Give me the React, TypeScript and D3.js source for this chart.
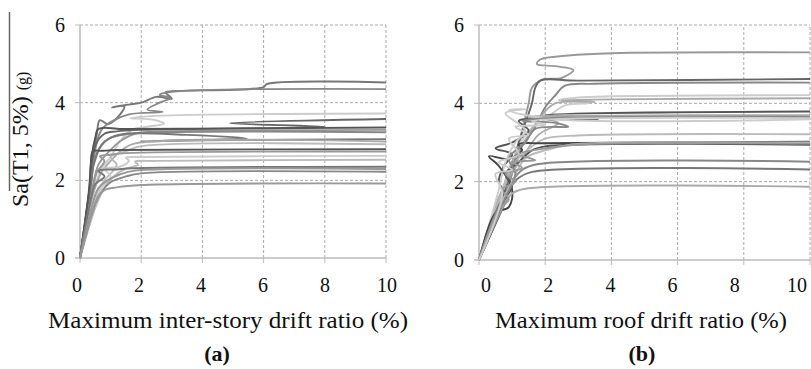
import { useEffect, useRef } from 'react';
import * as d3 from 'd3';

const X_TICKS = [0, 2, 4, 6, 8, 10];
const Y_TICKS = [0, 2, 4, 6];

// IDA curves, each point is [drift (%), Sa (g)]
const IDR_CURVES: [number, number][][] = [
  [[0, 0], [0.3, 1.6], [0.45, 2.6], [0.55, 3.2], [0.65, 3.55], [0.9, 3.45], [1.2, 3.6], [1.45, 3.9], [1.05, 3.88], [1.6, 3.95], [2.0, 4.0], [2.5, 4.15], [3.0, 4.1], [2.8, 4.27], [3.2, 4.3], [6.0, 4.4], [6.1, 4.48], [10, 4.52]],
  [[0, 0], [0.35, 1.8], [0.5, 2.8], [0.7, 3.3], [1.0, 3.5], [1.6, 3.7], [2.7, 3.76], [2.2, 3.82], [2.6, 4.0], [2.95, 4.12], [2.6, 4.2], [3.0, 4.28], [10, 4.35]],
  [[0, 0], [0.4, 1.6], [0.7, 2.3], [1.0, 2.6], [1.3, 3.0], [1.7, 3.3], [2.2, 3.38], [2.75, 3.46], [2.4, 3.56], [1.65, 3.6], [2.5, 3.66], [10, 3.72]],
  [[0, 0], [0.35, 2.0], [0.5, 2.9], [0.8, 3.2], [1.2, 3.26], [2.0, 3.3], [8.0, 3.38], [4.9, 3.47], [10, 3.58]],
  [[0, 0], [0.3, 1.7], [0.38, 2.6], [0.5, 3.1], [0.6, 3.32], [1.5, 3.32], [10, 3.36]],
  [[0, 0], [0.4, 1.8], [0.6, 2.4], [0.9, 2.7], [1.3, 3.0], [1.8, 3.2], [2.5, 3.25], [10, 3.3]],
  [[0, 0], [0.35, 1.9], [0.5, 2.6], [0.8, 3.0], [1.1, 3.12], [1.6, 3.2], [10, 3.24]],
  [[0, 0], [0.3, 1.6], [0.45, 2.4], [0.7, 2.9], [1.0, 3.1], [1.5, 3.2], [3.5, 3.17], [5.45, 3.08], [3.0, 3.03], [2.0, 3.0], [4.0, 3.03], [10, 3.06]],
  [[0, 0], [0.45, 1.7], [0.7, 2.2], [1.0, 2.5], [1.4, 2.8], [1.8, 2.95], [10, 3.0]],
  [[0, 0], [0.5, 1.6], [0.8, 2.0], [1.2, 2.4], [1.0, 2.6], [1.5, 2.75], [2.0, 2.88], [10, 2.93]],
  [[0, 0], [0.3, 1.8], [0.35, 2.4], [0.42, 2.75], [0.7, 2.76], [1.2, 2.78], [10, 2.8]],
  [[0, 0], [0.4, 1.7], [0.55, 2.2], [0.8, 2.5], [0.65, 2.62], [1.0, 2.66], [1.5, 2.7], [10, 2.74]],
  [[0, 0], [0.5, 1.5], [0.7, 1.8], [1.0, 2.1], [0.8, 2.3], [1.3, 2.35], [1.6, 2.5], [1.5, 2.58], [2.0, 2.6], [10, 2.63]],
  [[0, 0], [0.55, 1.4], [0.8, 1.8], [1.1, 2.1], [1.5, 2.3], [1.9, 2.4], [1.8, 2.48], [2.5, 2.5], [10, 2.53]],
  [[0, 0], [0.35, 1.5], [0.5, 1.9], [0.8, 2.1], [0.6, 2.25], [1.2, 2.28], [1.7, 2.31], [10, 2.35]],
  [[0, 0], [0.45, 1.5], [0.6, 1.8], [0.9, 2.0], [1.3, 2.15], [1.8, 2.25], [10, 2.29]],
  [[0, 0], [0.5, 1.4], [0.7, 1.7], [1.0, 1.95], [1.5, 2.1], [2.0, 2.18], [10, 2.22]],
  [[0, 0], [0.45, 1.3], [0.6, 1.6], [0.8, 1.75], [1.2, 1.82], [2.0, 1.88], [10, 1.92]],
];
const IDR_SHADES = ['#777', '#888', '#ccc', '#666', '#555', '#999', '#888', '#777', '#aaa', '#bbb', '#555', '#999', '#ccc', '#bbb', '#777', '#999', '#888', '#999'];

const ROOF_CURVES: [number, number][][] = [
  [[0, 0], [0.7, 1.4], [0.9, 2.0], [1.1, 2.6], [1.3, 3.3], [1.5, 4.0], [1.6, 4.4], [1.9, 4.6], [2.5, 4.65], [2.85, 4.85], [2.3, 4.95], [1.75, 5.0], [1.85, 5.12], [2.7, 5.22], [4.0, 5.28], [10, 5.3]],
  [[0, 0], [0.6, 1.3], [0.8, 1.8], [1.0, 2.4], [1.2, 3.0], [1.4, 3.5], [1.6, 4.0], [1.7, 4.4], [1.85, 4.58], [3.0, 4.58], [10, 4.62]],
  [[0, 0], [0.7, 1.4], [1.0, 2.2], [1.3, 2.9], [1.7, 3.4], [2.0, 3.9], [2.3, 4.2], [2.6, 4.45], [3.5, 4.5], [10, 4.53]],
  [[0, 0], [0.6, 1.5], [0.9, 2.3], [1.2, 2.9], [1.5, 3.3], [2.0, 3.6], [2.6, 3.95], [3.3, 4.0], [2.4, 4.08], [3.0, 4.15], [4.0, 4.18], [10, 4.21]],
  [[0, 0], [0.65, 1.6], [1.0, 2.5], [1.5, 3.2], [1.9, 3.7], [2.3, 4.0], [3.5, 4.04], [2.5, 4.08], [4.0, 4.1], [10, 4.13]],
  [[0, 0], [0.7, 1.3], [0.85, 1.6], [0.6, 2.0], [0.75, 2.4], [1.0, 2.7], [0.5, 2.85], [1.0, 3.0], [1.5, 3.3], [1.2, 3.55], [2.0, 3.6], [3.6, 3.58], [2.0, 3.7], [10, 3.79]],
  [[0, 0], [0.6, 1.6], [0.9, 2.1], [1.3, 2.6], [1.8, 3.2], [2.4, 3.5], [1.5, 3.65], [3.0, 3.68], [10, 3.7]],
  [[0, 0], [0.6, 1.8], [0.8, 2.5], [1.1, 3.0], [1.4, 3.3], [0.8, 3.75], [1.4, 3.85], [0.9, 3.82], [2.2, 3.6], [10, 3.59]],
  [[0, 0], [0.6, 1.5], [0.9, 2.2], [1.2, 2.6], [1.6, 2.9], [2.0, 3.1], [3.0, 3.18], [10, 3.21]],
  [[0, 0], [0.5, 1.2], [0.9, 1.35], [1.0, 1.8], [0.6, 2.4], [0.3, 2.65], [0.9, 2.58], [1.3, 2.8], [1.2, 2.95], [2.0, 2.98], [10, 3.02]],
  [[0, 0], [0.75, 1.5], [1.0, 1.9], [0.8, 2.2], [1.2, 2.5], [1.6, 2.8], [2.0, 2.9], [10, 2.94]],
  [[0, 0], [0.7, 1.5], [1.0, 2.0], [1.3, 2.3], [1.8, 2.45], [10, 2.51]],
  [[0, 0], [0.6, 1.4], [0.9, 1.8], [1.2, 2.1], [1.6, 2.25], [10, 2.31]],
  [[0, 0], [0.75, 1.4], [1.0, 1.7], [1.4, 1.82], [10, 1.87]],
  [[0, 0], [0.7, 1.5], [1.0, 2.0], [1.4, 2.6], [2.0, 2.8], [2.8, 2.95], [3.7, 2.99], [10, 3.0]],
  [[0, 0], [0.8, 1.6], [1.1, 2.2], [0.9, 2.6], [1.4, 3.0], [1.7, 3.35], [2.7, 3.4], [2.3, 3.5], [1.3, 3.55], [2.0, 3.62], [10, 3.65]],
  [[0, 0], [0.6, 1.3], [0.9, 1.55], [0.7, 1.8], [1.1, 2.0], [0.8, 2.2], [1.3, 2.35], [1.0, 2.5], [1.7, 2.55], [1.2, 2.7], [2.0, 2.85], [3.0, 2.95], [10, 2.97]],
  [[0, 0], [0.7, 1.7], [0.5, 2.2], [1.0, 2.3], [0.6, 2.5], [1.2, 2.7], [0.9, 3.1], [1.5, 3.2], [1.1, 3.4], [2.0, 3.45], [1.6, 3.55], [10, 3.62]],
];
const ROOF_SHADES = ['#999', '#666', '#888', '#ccc', '#aaa', '#555', '#aaa', '#ccc', '#bbb', '#444', '#555', '#888', '#777', '#aaa', '#bbb', '#888', '#999', '#ccc'];

const FONT = "'Liberation Serif', 'DejaVu Serif', 'Times New Roman', Times, serif";

export default function App() {
  const svgRef = useRef<SVGSVGElement>(null);

  useEffect(() => {
    if (!svgRef.current) return;
    const svg = d3.select(svgRef.current);
    svg.selectAll('*').remove();

    const panels = [
      { curves: IDR_CURVES, shades: IDR_SHADES, left: 80, right: 386, bottom: 258, top: 25,
        labelL: 77, labelR: 387, title: 'Maximum inter-story drift ratio (%)', titleW: 360,
        tag: '(a)', titleX: 228, tagX: 217 },
      { curves: ROOF_CURVES, shades: ROOF_SHADES, left: 479, right: 810, bottom: 260, top: 25,
        labelL: 486, labelR: 797, title: 'Maximum roof drift ratio (%)', titleW: 292,
        tag: '(b)', titleX: 641, tagX: 642 },
    ];

    panels.forEach(p => {
      const x = d3.scaleLinear().domain([0, 10]).range([p.left, p.right]);
      const xLab = d3.scaleLinear().domain([0, 10]).range([p.labelL, p.labelR]);
      const y = d3.scaleLinear().domain([0, 6]).range([p.bottom, p.top]);
      const g = svg.append('g');

      // dashed grid
      g.selectAll('line.gx').data(X_TICKS.slice(1)).join('line')
        .attr('x1', d => x(d)).attr('x2', d => x(d))
        .attr('y1', y(0)).attr('y2', y(6))
        .attr('stroke', '#aaa').attr('stroke-dasharray', '3,2').attr('stroke-width', 1);
      g.selectAll('line.gy').data(Y_TICKS.slice(1)).join('line')
        .attr('x1', x(0)).attr('x2', x(10))
        .attr('y1', d => y(d)).attr('y2', d => y(d))
        .attr('stroke', '#aaa').attr('stroke-dasharray', '3,2').attr('stroke-width', 1);

      // axes
      g.append('line').attr('x1', x(0)).attr('x2', x(0)).attr('y1', y(0)).attr('y2', y(6))
        .attr('stroke', '#bbb').attr('stroke-width', 1.5);
      g.append('line').attr('x1', x(0) - 5).attr('x2', x(10)).attr('y1', y(0)).attr('y2', y(0))
        .attr('stroke', '#bbb').attr('stroke-width', 1.5);
      g.selectAll('line.ty').data(Y_TICKS.slice(1)).join('line')
        .attr('x1', x(0) - 5).attr('x2', x(0)).attr('y1', d => y(d)).attr('y2', d => y(d))
        .attr('stroke', '#bbb').attr('stroke-width', 1);
      g.selectAll('line.tx').data(X_TICKS).join('line')
        .attr('x1', d => x(d)).attr('x2', d => x(d)).attr('y1', y(0)).attr('y2', y(0) + 5)
        .attr('stroke', '#bbb').attr('stroke-width', 1);

      // curves
      const line = d3.line<[number, number]>()
        .x(d => x(d[0])).y(d => y(d[1]))
        .curve(d3.curveCatmullRom.alpha(0.5));
      g.selectAll('path.ida').data(p.curves).join('path')
        .attr('d', d => line(d))
        .attr('fill', 'none')
        .attr('stroke', (_, i) => p.shades[i])
        .attr('stroke-width', 1.9)
        .attr('stroke-linejoin', 'round');

      // tick labels
      g.selectAll('text.yl').data(Y_TICKS).join('text')
        .attr('x', x(0) - 15).attr('y', d => y(d) + 7)
        .attr('text-anchor', 'end').attr('font-size', 20)
        .attr('fill', '#111').text(d => d);
      g.selectAll('text.xl').data(X_TICKS).join('text')
        .attr('x', d => xLab(d)).attr('y', 292)
        .attr('text-anchor', 'middle').attr('font-size', 20)
        .attr('fill', '#111').text(d => d);

      g.append('text').attr('x', p.titleX).attr('y', 328)
        .attr('text-anchor', 'middle').attr('font-size', 23)
        .attr('textLength', p.titleW).attr('lengthAdjust', 'spacingAndGlyphs')
        .attr('fill', '#111').text(p.title);
      g.append('text').attr('x', p.tagX).attr('y', 361)
        .attr('text-anchor', 'middle').attr('font-size', 22)
        .attr('font-weight', 'bold').attr('fill', '#111').text(p.tag);
    });

    // y axis label with overline
    svg.append('line').attr('x1', 9.5).attr('x2', 9.5).attr('y1', 12).attr('y2', 191)
      .attr('stroke', '#666').attr('stroke-width', 1.5);
    const yl = svg.append('text')
      .attr('transform', 'translate(28,207) rotate(-90)')
      .attr('font-size', 24).attr('fill', '#111');
    yl.append('tspan').text('Sa(T1, 5%) ');
    yl.append('tspan').attr('font-size', 16).text('(g)');
  }, []);

  return (
    <svg ref={svgRef} width={811} height={369}
      style={{ position: 'absolute', left: 0, top: 0, background: '#fff', fontFamily: FONT }} />
  );
}
